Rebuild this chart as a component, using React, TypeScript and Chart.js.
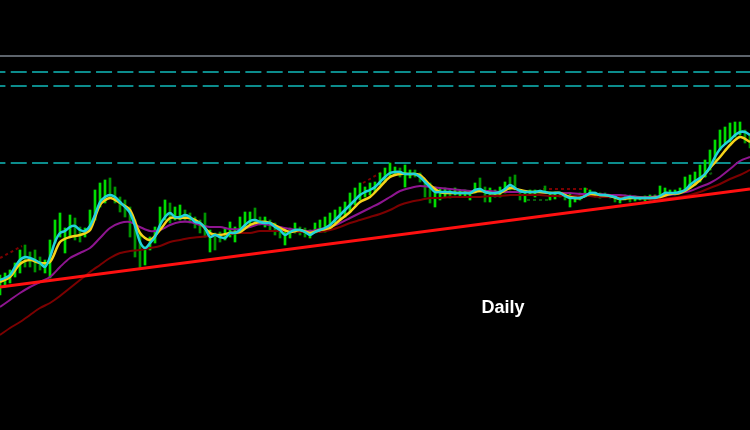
import { useEffect, useRef } from "react";
import { Chart, registerables } from "chart.js";

Chart.register(...registerables);

// Bar index step (one price bar per index), prices in points
const BAR_HIGH = [
  155, 157, 160, 167, 180, 185, 178, 180, 173, 170,
  190, 210, 217, 202, 215, 212, 203, 202, 220, 240,
  247, 250, 252, 243, 233, 230, 223, 210, 197, 183,
  193, 203, 223, 230, 227, 223, 225, 220, 217, 213,
  210, 217, 200, 197, 198, 202, 208, 203, 213, 218,
  218, 222, 213, 213, 210, 207, 203, 200, 202, 207,
  203, 202, 200, 207, 210, 213, 217, 220, 223, 228,
  237, 242, 247, 243, 247, 248, 257, 262, 267, 263,
  262, 265, 260, 260, 257, 250, 247, 243, 242, 242,
  240, 242, 240, 240, 238, 247, 252, 243, 242, 240,
  243, 248, 253, 255, 240, 237, 240, 240, 240, 244,
  238, 238, 238, 237, 237, 233, 237, 242, 240, 238,
  237, 237, 235, 235, 233, 235, 235, 234, 233, 234,
  235, 235, 244, 242, 240, 240, 242, 253, 255, 258,
  265, 270, 280, 290, 300, 303, 307, 308, 308, 300,
  295,
];

const BAR_LOW = [
  135, 143, 147, 153, 157, 163, 163, 158, 160, 157,
  152, 187, 193, 177, 193, 190, 188, 193, 200, 210,
  223, 227, 233, 227, 218, 213, 193, 173, 162, 165,
  180, 187, 200, 210, 207, 210, 210, 210, 207, 202,
  197, 193, 178, 180, 188, 190, 193, 188, 198, 203,
  203, 208, 205, 203, 200, 195, 192, 185, 192, 197,
  195, 193, 192, 197, 198, 198, 202, 207, 210, 213,
  218, 225, 230, 233, 235, 238, 245, 248, 253, 255,
  253, 243, 252, 253, 248, 233, 227, 223, 230, 233,
  232, 235, 233, 233, 230, 237, 238, 228, 228, 233,
  233, 237, 240, 240, 230, 228, 235, 233, 237, 238,
  230, 231, 233, 230, 223, 228, 230, 233, 235, 233,
  232, 233, 232, 228, 227, 230, 228, 229, 230, 229,
  230, 231, 232, 235, 235, 235, 237, 238, 242, 245,
  248, 253, 260, 270, 280, 287, 288, 293, 295, 287,
  282,
];

// Fast moving average (cyan), one value per bar
const FAST_MA = [
  150, 152, 155, 163, 170, 173, 172, 170, 167, 163,
  173, 188, 197, 199, 203, 204, 200, 199, 204, 215,
  228, 233, 235, 233, 228, 223, 217, 204, 188, 182,
  187, 193, 205, 213, 217, 213, 213, 215, 213, 208,
  207, 202, 193, 195, 193, 192, 197, 197, 200, 205,
  209, 210, 208, 207, 207, 203, 200, 195, 198, 200,
  200, 198, 195, 198, 200, 202, 205, 210, 215, 220,
  225, 230, 235, 238, 240, 243, 248, 253, 257, 258,
  258, 256, 256, 256, 253, 248, 243, 238, 238, 238,
  238, 237, 237, 237, 237, 240, 241, 238, 237, 237,
  238, 241, 245, 242, 239, 238, 238, 238, 239, 238,
  237, 237, 237, 234, 232, 232, 232, 234, 237, 237,
  235, 235, 234, 233, 231, 232, 233, 232, 232, 232,
  232, 232, 234, 237, 237, 237, 238, 240, 245, 249,
  252, 256, 263, 273, 281, 286, 290, 295, 298, 298,
  295,
];

// Signal average (yellow), one value every 2 bars
const SIGNAL_MA = [
  148, 153, 166, 170, 167, 168, 188, 193, 195, 200,
  225, 232, 227, 220, 197, 190, 200, 212, 212, 212,
  207, 197, 195, 197, 198, 205, 208, 207, 202, 198,
  200, 197, 200, 202, 210, 218, 228, 233, 243, 253,
  256, 256, 255, 245, 238, 237, 237, 237, 239, 237,
  237, 242, 240, 238, 238, 237, 237, 233, 232, 236,
  235, 234, 231, 232, 232, 232, 233, 236, 237, 242,
  250, 262, 273, 285, 293, 288,
];

// Medium average (purple), one value every 2 bars
const MID_MA = [
  123, 130, 137, 143, 148, 153, 163, 172, 177, 182,
  192, 202, 207, 208, 203, 199, 200, 205, 208, 208,
  205, 203, 203, 201, 201, 203, 206, 205, 203, 201,
  200, 199, 201, 203, 207, 212, 217, 222, 227, 233,
  239, 242, 244, 243, 242, 241, 240, 239, 239, 239,
  238, 238, 238, 238, 238, 237, 237, 237, 236, 236,
  236, 235, 235, 234, 233, 233, 234, 235, 237, 239,
  243, 247, 253, 261, 269, 273,
];

// Slow average (dark red), one value every 2 bars
const SLOW_MA = [
  95, 102, 108, 115, 122, 127, 134, 142, 150, 158,
  165, 172, 177, 179, 180, 182, 184, 188, 190, 192,
  193, 194, 195, 196, 197, 197, 199, 199, 199, 199,
  198, 198, 198, 200, 203, 207, 210, 213, 216, 220,
  225, 228, 230, 232, 232, 233, 233, 233, 233, 234,
  234, 235, 235, 235, 235, 234, 234, 234, 234, 234,
  233, 233, 233, 232, 232, 231, 231, 232, 233, 235,
  238, 242, 246, 251, 255, 260,
];

// Band fragments: [bar index, price]
const BAND_UPPER_A = [[0, 172], [4.4, 184]];
const BAND_UPPER_B = [[72.6, 247], [76.4, 258]];
const BAND_UPPER_C = [[108.6, 241], [118, 241]];
const BAND_LOWER_A = [[105.4, 230], [110, 230]];
const BAND_LOWER_B = [[137.6, 245], [142.4, 257]];

// Horizontal levels
const LEVEL_SOLID = 374;
const LEVELS_DASHED = [358, 344, 267];

// Trend line: [bar index, price]
const TREND = [[0, 143], [150, 241]];

const LABEL = "Daily";
const X_MAX = 150;

export default function App() {
  const ref = useRef<HTMLCanvasElement | null>(null);

  useEffect(() => {
    const canvas = ref.current;
    if (!canvas) return;

    const every2 = (arr: number[]) => arr.map((v, i) => ({ x: i * 2, y: v }));
    const pts = (arr: number[][]) => arr.map(([x, y]) => ({ x, y }));
    const lineBase = {
      type: "line" as const,
      pointRadius: 0,
      fill: false,
      spanGaps: true,
    };

    const datasets: any[] = [];

    datasets.push({
      ...lineBase,
      data: FAST_MA.map((v, i) => ({ x: i, y: v })),
      borderColor: "#22d2dc",
      borderWidth: 2.5,
      tension: 0.3,
      order: 0,
    });
    datasets.push({
      ...lineBase,
      data: every2(SIGNAL_MA),
      borderColor: "#f7d21a",
      borderWidth: 2.5,
      tension: 0.3,
      order: 1,
    });
    datasets.push({
      ...lineBase,
      data: pts(TREND),
      borderColor: "#ff1010",
      borderWidth: 3,
      order: 2,
    });
    datasets.push({
      ...lineBase,
      data: every2(MID_MA),
      borderColor: "#8e1590",
      borderWidth: 2,
      tension: 0.3,
      order: 3,
    });
    datasets.push({
      ...lineBase,
      data: every2(SLOW_MA),
      borderColor: "#7c0000",
      borderWidth: 2,
      tension: 0.3,
      order: 4,
    });
    datasets.push({
      type: "bar",
      data: BAR_HIGH.map((h, i) => ({ x: i, y: [BAR_LOW[i], h] })),
      backgroundColor: BAR_HIGH.map((_, i) =>
        i + 1 < FAST_MA.length && FAST_MA[i + 1] >= FAST_MA[i] ? "#00dd00" : "#009400"
      ),
      borderWidth: 0,
      barThickness: 2,
      grouped: false,
      order: 5,
    });
    [BAND_UPPER_A, BAND_UPPER_B, BAND_UPPER_C].forEach((seg) =>
      datasets.push({
        ...lineBase,
        data: pts(seg),
        borderColor: "#7a0000",
        borderWidth: 2,
        borderDash: [3, 3],
        order: 6,
      })
    );
    [BAND_LOWER_A, BAND_LOWER_B].forEach((seg) =>
      datasets.push({
        ...lineBase,
        data: pts(seg),
        borderColor: "#0a5a0a",
        borderWidth: 2,
        borderDash: [3, 3],
        order: 6,
      })
    );
    datasets.push({
      ...lineBase,
      data: [
        { x: 0, y: LEVEL_SOLID },
        { x: X_MAX, y: LEVEL_SOLID },
      ],
      borderColor: "#5d646c",
      borderWidth: 2,
      order: 7,
    });
    LEVELS_DASHED.forEach((lv) =>
      datasets.push({
        ...lineBase,
        data: [
          { x: 0, y: lv },
          { x: X_MAX, y: lv },
        ],
        borderColor: "#0c8c8c",
        borderWidth: 2,
        borderDash: [16, 5.33],
        borderDashOffset: 10.6,
        order: 7,
      })
    );

    const bgPlugin = {
      id: "bg",
      beforeDraw(chart: any) {
        const { ctx, width, height } = chart;
        ctx.save();
        ctx.fillStyle = "#000000";
        ctx.fillRect(0, 0, width, height);
        ctx.restore();
      },
    };
    const labelPlugin = {
      id: "label",
      afterDraw(chart: any) {
        const { ctx, scales } = chart;
        const x = scales.x.getPixelForValue(100.6);
        const y = scales.y.getPixelForValue(117);
        ctx.save();
        ctx.font = 'bold 18px "Liberation Sans", Arial, sans-serif';
        ctx.fillStyle = "#ffffff";
        ctx.textAlign = "center";
        ctx.textBaseline = "alphabetic";
        ctx.fillText(LABEL, x, y);
        ctx.restore();
      },
    };

    const chart = new Chart(canvas, {
      type: "bar",
      data: { datasets },
      options: {
        responsive: false,
        animation: false,
        devicePixelRatio: 1,
        events: [],
        layout: { padding: 0 },
        plugins: {
          legend: { display: false },
          tooltip: { enabled: false },
          title: { display: false },
        },
        scales: {
          x: {
            type: "linear",
            min: 0,
            max: X_MAX,
            offset: false,
            display: false,
          },
          y: {
            type: "linear",
            min: 0,
            max: 430,
            display: false,
          },
        },
      },
      plugins: [bgPlugin, labelPlugin],
    } as any);

    return () => chart.destroy();
  }, []);

  return (
    <div
      style={{
        position: "absolute",
        left: 0,
        top: 0,
        width: 750,
        height: 430,
        background: "#000",
      }}
    >
      <canvas ref={ref} width={750} height={430} />
    </div>
  );
}
